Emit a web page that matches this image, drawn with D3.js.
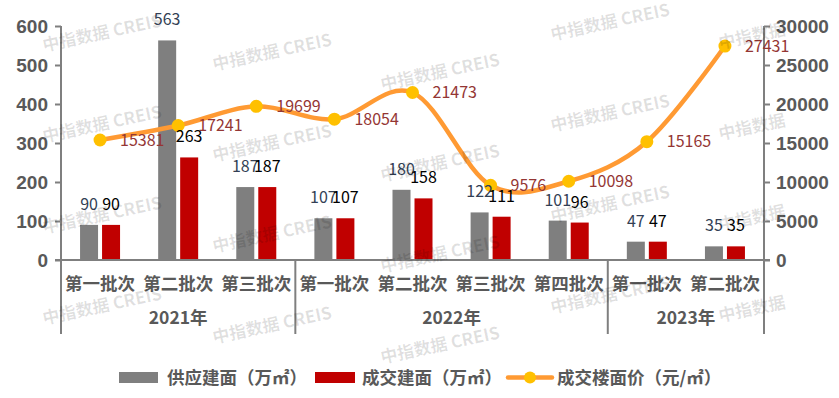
<!DOCTYPE html>
<html>
<head>
<meta charset="utf-8">
<script src="https://cdn.jsdelivr.net/npm/d3@7"></script>
<style>
  body { margin: 0; background: #fff; }
  svg { display: block; font-family: "Noto Sans CJK SC", "Noto Sans", sans-serif; }
</style>
</head>
<body>
<script>
// data
const categories = ['第一批次', '第二批次', '第三批次', '第一批次', '第二批次', '第三批次', '第四批次', '第一批次', '第二批次']
const years = ['2021年', '2022年', '2023年']
const yearSizes = [3, 4, 2]
const supply = [90, 563, 187, 107, 180, 122, 101, 47, 35]
const deal = [90, 263, 187, 107, 158, 111, 96, 47, 35]
const price = [15381, 17241, 19699, 18054, 21473, 9576, 10098, 15165, 27431]
const leftTicks = [0, 100, 200, 300, 400, 500, 600]
const rightTicks = [0, 5000, 10000, 15000, 20000, 25000, 30000]
const legendNames = ['供应建面（万㎡）', '成交建面（万㎡）', '成交楼面价（元/㎡）']

const W = 839, H = 398
const axisColor = '#7f7f7f', textColor = '#595959'
const grayBar = '#7f7f7f', redBar = '#c00000', lineColor = '#ff9a33', dotColor = '#ffc000'

const svg = d3.select('body').append('svg').attr('width', W).attr('height', H)

const x = d3.scaleBand().domain(d3.range(categories.length)).range([61, 764])
const inner = d3.scaleBand().domain(['s', 'd']).range([-20, 20]).paddingInner(4 / 22)
const yL = d3.scaleLinear().domain([0, 600]).range([260, 26])
const yR = d3.scaleLinear().domain([0, 30000]).range([260, 26])
const cx = function (i) { return x(i) + x.bandwidth() / 2 }

// bars
const gBars = svg.append('g')
gBars.selectAll('rect.s').data(supply).enter().append('rect').attr('class', 's')
  .attr('x', function (d, i) { return cx(i) + inner('s') })
  .attr('y', function (d) { return yL(d) })
  .attr('width', inner.bandwidth())
  .attr('height', function (d) { return yL(0) - yL(d) })
  .attr('fill', grayBar)
gBars.selectAll('rect.d').data(deal).enter().append('rect').attr('class', 'd')
  .attr('x', function (d, i) { return cx(i) + inner('d') })
  .attr('y', function (d) { return yL(d) })
  .attr('width', inner.bandwidth())
  .attr('height', function (d) { return yL(0) - yL(d) })
  .attr('fill', redBar)

// axes
const gAx = svg.append('g')
const left = gAx.append('g').attr('transform', 'translate(61,0)')
  .call(d3.axisLeft(yL).tickValues(leftTicks).tickSize(6).tickPadding(7).tickFormat(d3.format('d')))
const right = gAx.append('g').attr('transform', 'translate(764,0)')
  .call(d3.axisRight(yR).tickValues(rightTicks).tickSize(6).tickPadding(6).tickFormat(d3.format('d')))
;[left, right].forEach(function (a) {
  a.select('.domain').remove()
  a.selectAll('line').attr('stroke', axisColor).attr('stroke-width', 2)
  a.selectAll('text').attr('fill', textColor).style('font-size', '19px').style('font-weight', 'bold')
    .attr('dy', '0.35em')
})
gAx.append('line').attr('x1', 55).attr('x2', 770).attr('y1', yL(0)).attr('y2', yL(0))
  .attr('stroke', axisColor).attr('stroke-width', 2)

// vertical separators (also the axis lines going down)
let bounds = [0]
yearSizes.forEach(function (n) { bounds.push(bounds[bounds.length - 1] + n) })
gAx.append('line').attr('x1', 61).attr('x2', 61).attr('y1', 26).attr('y2', 334)
  .attr('stroke', axisColor).attr('stroke-width', 2)
gAx.append('line').attr('x1', 764).attr('x2', 764).attr('y1', 26).attr('y2', 334)
  .attr('stroke', axisColor).attr('stroke-width', 2)
bounds.slice(1, -1).forEach(function (b) {
  gAx.append('line').attr('x1', x(b)).attr('x2', x(b)).attr('y1', yL(0)).attr('y2', 334)
    .attr('stroke', axisColor).attr('stroke-width', 2)
})

// category and year labels
svg.append('g').selectAll('text').data(categories).enter().append('text')
  .attr('x', function (d, i) { return cx(i) })
  .attr('y', 290)
  .attr('text-anchor', 'middle')
  .attr('fill', textColor)
  .style('font-size', '17.5px').style('font-weight', 'bold')
  .text(function (d) { return d })
svg.append('g').selectAll('text').data(years).enter().append('text')
  .attr('x', function (d, i) { return (x(bounds[i]) + x(bounds[i + 1] - 1) + x.bandwidth()) / 2 })
  .attr('y', 324)
  .attr('text-anchor', 'middle')
  .attr('fill', textColor)
  .style('font-size', '17.5px').style('font-weight', 'bold')
  .text(function (d) { return d })

// price line
const line = d3.line()
  .x(function (d, i) { return cx(i) })
  .y(function (d) { return yR(d) })
  .curve(d3.curveCatmullRom.alpha(0))
svg.append('path').datum(price).attr('d', line)
  .attr('fill', 'none').attr('stroke', lineColor).attr('stroke-width', 4.5)
svg.append('g').selectAll('circle').data(price).enter().append('circle')
  .attr('cx', function (d, i) { return cx(i) })
  .attr('cy', function (d) { return yR(d) })
  .attr('r', 6.5)
  .attr('fill', dotColor)

// value labels
const gLab = svg.append('g').style('font-size', '16px')
gLab.selectAll('text.s').data(supply).enter().append('text').attr('class', 's')
  .attr('x', function (d, i) { return cx(i) + inner('s') + inner.bandwidth() / 2 })
  .attr('y', function (d) { return Math.max(yL(d) - 15, 23) })
  .attr('text-anchor', 'middle').attr('fill', '#333f55')
  .text(function (d) { return d })
gLab.selectAll('text.d').data(deal).enter().append('text').attr('class', 'd')
  .attr('x', function (d, i) { return cx(i) + inner('d') + inner.bandwidth() / 2 })
  .attr('y', function (d) { return yL(d) - 15 })
  .attr('text-anchor', 'middle').attr('fill', '#000')
  .text(function (d) { return d })
gLab.selectAll('text.p').data(price).enter().append('text').attr('class', 'p')
  .attr('x', function (d, i) { return cx(i) + 20 })
  .attr('y', function (d) { return yR(d) })
  .attr('dy', '0.35em')
  .attr('fill', '#943634')
  .text(function (d) { return d })

// legend
const lg = svg.append('g').style('font-size', '17.5px').style('font-weight', 'bold')
lg.append('rect').attr('x', 119).attr('y', 372).attr('width', 39).attr('height', 11).attr('fill', grayBar)
lg.append('text').attr('x', 167).attr('y', 384).attr('fill', textColor).text(legendNames[0])
lg.append('rect').attr('x', 315).attr('y', 372).attr('width', 40).attr('height', 11).attr('fill', redBar)
lg.append('text').attr('x', 362).attr('y', 384).attr('fill', textColor).text(legendNames[1])
lg.append('line').attr('x1', 508).attr('x2', 552).attr('y1', 377.5).attr('y2', 377.5)
  .attr('stroke', lineColor).attr('stroke-width', 4.5).attr('stroke-linecap', 'round')
lg.append('circle').attr('cx', 530).attr('cy', 377.5).attr('r', 6).attr('fill', dotColor)
lg.append('text').attr('x', 557).attr('y', 384).attr('fill', textColor).text(legendNames[2])

// watermark
const wm = svg.append('g')
const wmCols = [102, 272, 440, 610, 752]
const wmStart = [33, 52, 72, 22, 36]
wmCols.forEach(function (wx, c) {
  for (let r = 0; r < 4; r++) {
    const wy = wmStart[c] + r * 91
    wm.append('text')
      .attr('transform', 'translate(' + wx + ',' + wy + ') rotate(-12)')
      .attr('text-anchor', 'middle').attr('dy', '0.35em')
      .attr('fill', '#000').attr('fill-opacity', 0.12)
      .style('font-size', '17px').style('font-weight', 'bold')
      .text(c === wmCols.length - 1 ? '中指数据' : '中指数据 CREIS')
  }
})
</script>
</body>
</html>
